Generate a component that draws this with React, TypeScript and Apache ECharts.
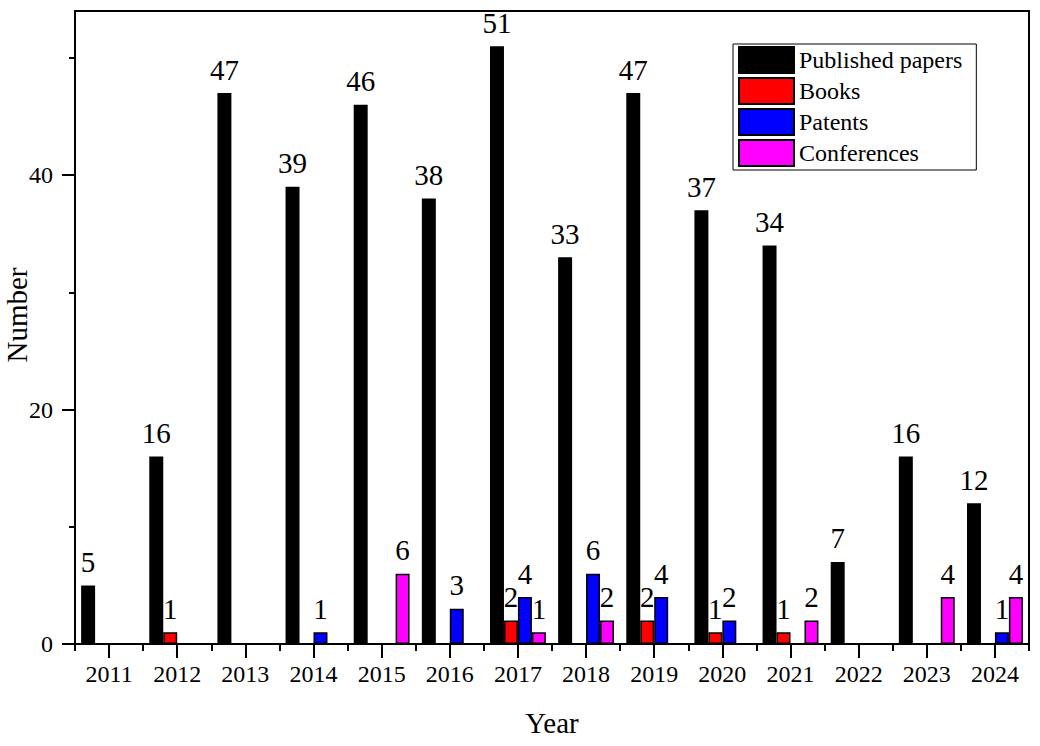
import React, { useEffect, useRef } from "react";
import * as echarts from "echarts";

const years = ["2011", "2012", "2013", "2014", "2015", "2016", "2017", "2018", "2019", "2020", "2021", "2022", "2023", "2024"];
const papers = [5, 16, 47, 39, 46, 38, 51, 33, 47, 37, 34, 7, 16, 12];
const books = [0, 1, 0, 0, 0, 0, 2, 0, 2, 1, 1, 0, 0, 0];
const patents = [0, 0, 0, 1, 0, 3, 4, 6, 4, 2, 0, 0, 0, 1];
const conferences = [0, 0, 0, 0, 6, 0, 1, 2, 0, 0, 2, 0, 4, 4];
const majorY = [0, 20, 40];
const minorY = [10, 30, 50];

const FONT = "'Liberation Serif', 'Times New Roman', serif";

export default function App() {
  const ref = useRef<HTMLDivElement>(null);
  useEffect(() => {
    if (!ref.current) return;
    const chart = echarts.init(ref.current, undefined, { renderer: "svg" });
    const mk = (name: string, data: number[], color: string) => ({
      name,
      type: "bar",
      xAxisIndex: 0,
      yAxisIndex: 0,
      data,
      barGap: "0%",
      barCategoryGap: "18%",
      itemStyle: { color, borderColor: "#000", borderWidth: 1.5 },
      label: {
        show: true,
        position: "top",
        distance: 9,
        color: "#000",
        fontFamily: FONT,
        fontSize: 29,
        formatter: (p: any) => (p.value === 0 ? "" : String(p.value)),
      },
    });
    chart.setOption({
      animation: false,
      textStyle: { fontFamily: FONT, color: "#000" },
      grid: {
        left: 75, top: 11, right: 11, bottom: 102,
        containLabel: false, outerBoundsMode: "none",
        show: true, borderColor: "#000", borderWidth: 2, backgroundColor: "transparent",
      },
      graphic: [
        {
          type: "text",
          x: 17,
          y: 315,
          rotation: Math.PI / 2,
          style: {
            text: "Number",
            fontFamily: FONT,
            fontSize: 29,
            fill: "#000",
            textAlign: "center",
            textVerticalAlign: "middle",
          },
        },
      ],
      legend: {
        orient: "vertical",
        left: 733,
        top: 44,
        padding: [2, 14, 3, 5],
        borderColor: "#000",
        borderWidth: 1,
        itemWidth: 55,
        itemHeight: 26,
        itemGap: 3,
        icon: "rect",
        textStyle: { fontFamily: FONT, fontSize: 24, color: "#000", lineHeight: 26 },
        data: ["Published papers", "Books", "Patents", "Conferences"],
      },
      xAxis: [
        {
          type: "category",
          data: years,
          position: "bottom",
          name: "Year",
          nameLocation: "middle",
          nameGap: 64,
          nameTextStyle: { fontFamily: FONT, fontSize: 29, color: "#000" },
          axisLine: { show: true, lineStyle: { color: "#000", width: 2 } },
          axisTick: { show: true, alignWithLabel: true, length: 14, lineStyle: { color: "#000", width: 2 } },
          axisLabel: { fontFamily: FONT, fontSize: 24, color: "#000", margin: 18 },
        },
        {
          type: "category",
          data: years,
          position: "bottom",
          offset: 0,
          axisLine: { show: false },
          axisTick: { show: true, alignWithLabel: false, length: 7, lineStyle: { color: "#000", width: 2 } },
          axisLabel: { show: false },
        },
      ],
      yAxis: [
        {
          type: "value",
          min: 0,
          max: 54,
          interval: 10,
          position: "left",
          axisLine: { show: true, lineStyle: { color: "#000", width: 2 } },
          axisTick: { show: true, length: 13, customValues: majorY, lineStyle: { color: "#000", width: 2 } },
          axisLabel: { fontFamily: FONT, fontSize: 24, color: "#000", margin: 22, customValues: majorY },
          splitLine: { show: false },
        },
        {
          type: "value",
          min: 0,
          max: 54,
          interval: 10,
          position: "left",
          offset: 0,
          axisLine: { show: false },
          axisTick: { show: true, length: 6, customValues: minorY, lineStyle: { color: "#000", width: 2 } },
          axisLabel: { show: false },
          splitLine: { show: false },
        },
      ],
      series: [
        mk("Published papers", papers, "#000000"),
        mk("Books", books, "#ff0000"),
        mk("Patents", patents, "#0000ff"),
        mk("Conferences", conferences, "#ff00ff"),
      ],
    });
    return () => chart.dispose();
  }, []);
  return <div ref={ref} style={{ position: "fixed", left: 0, top: 0, width: 1040, height: 746, background: "#fff" }} />;
}
